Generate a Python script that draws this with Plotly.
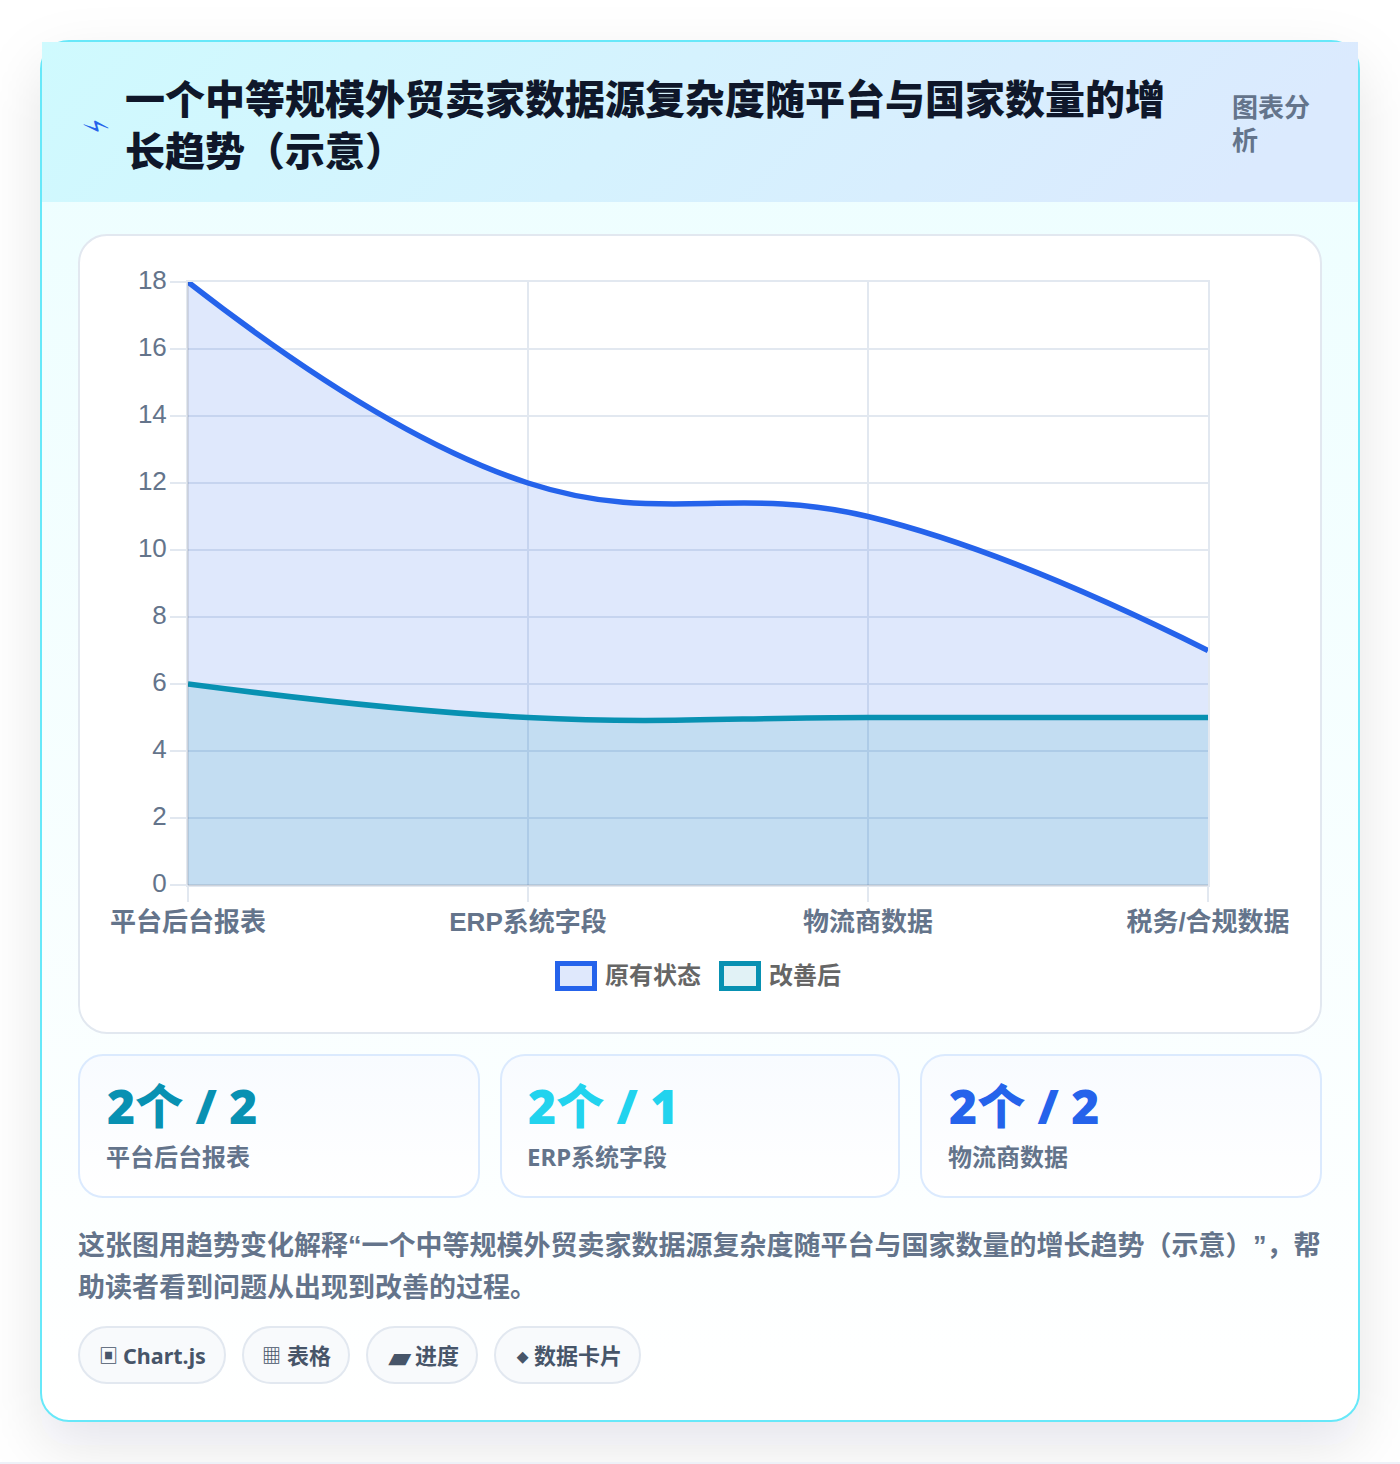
import base64
import plotly.graph_objects as go

# Chart data
categories = ["平台后台报表", "ERP系统字段", "物流商数据", "税务/合规数据"]
before_values = [18, 12, 11, 7]
after_values = [6, 5, 5, 5]
y_ticks = [0, 2, 4, 6, 8, 10, 12, 14, 16, 18]
series_names = ["原有状态", "改善后"]

W, H = 1400, 1464
CJK = "Noto Sans CJK SC"
HUMANIST = f"Noto Sans, {CJK}"
HELV = f"Liberation Sans, {CJK}"
SLATE = "#64748b"
GRID = "#e2e8f0"
BLUE = "#2563eb"
TEAL = "#0891b2"

# The curly quotes are set in the Latin face so they stay narrow
OPEN_QUOTE = '<span style="font-family:Liberation Sans">“</span>'
CLOSE_QUOTE = '<span style="font-family:Liberation Sans">”</span>'

# Copy
title_lines = ["一个中等规模外贸卖家数据源复杂度随平台与国家数量的增", "长趋势（示意）"]
badge_lines = ["图表分", "析"]
stat_values = ["2个 / 2", "2个 / 1", "2个 / 2"]
stat_labels = ["平台后台报表", "ERP系统字段", "物流商数据"]
stat_colors = ["#0891b2", "#22d3ee", "#2563eb"]
note_first = f"这张图用趋势变化解释{OPEN_QUOTE}一个中等规模外贸卖家数据源复杂度随平台与国家数量的增长趋势（示意）"
note_first_tail = f"{CLOSE_QUOTE}，帮"
note_second = "助读者看到问题从出现到改善的过程。"
pill_icons = ["▣", "▦", "▰", "⬥"]
pill_texts = ["Chart.js", "表格", "进度", "数据卡片"]


def px(x):
    return x / W


def py(y):
    return 1 - y / H


def round_rect(x0, y0, x1, y1, r):
    k = r * 0.4477
    pts = [
        f"M{px(x0 + r)},{py(y0)}",
        f"L{px(x1 - r)},{py(y0)}",
        f"C{px(x1 - k)},{py(y0)} {px(x1)},{py(y0 + k)} {px(x1)},{py(y0 + r)}",
        f"L{px(x1)},{py(y1 - r)}",
        f"C{px(x1)},{py(y1 - k)} {px(x1 - k)},{py(y1)} {px(x1 - r)},{py(y1)}",
        f"L{px(x0 + r)},{py(y1)}",
        f"C{px(x0 + k)},{py(y1)} {px(x0)},{py(y1 - k)} {px(x0)},{py(y1 - r)}",
        f"L{px(x0)},{py(y0 + r)}",
        f"C{px(x0)},{py(y0 + k)} {px(x0 + k)},{py(y0)} {px(x0 + r)},{py(y0)}",
        "Z",
    ]
    return " ".join(pts)


def panel(x0, y0, x1, y1, r, line, width, fill):
    return dict(
        type="path", xref="paper", yref="paper", layer="below",
        path=round_rect(x0, y0, x1, y1, r), fillcolor=fill,
        line=dict(color=line, width=width),
    )


def label(x, y, text, size, color, family=CJK, weight=700, anchor="left", angle=0):
    return dict(
        xref="paper", yref="paper", x=px(x), y=py(y), text=text, showarrow=False,
        xanchor=anchor, yanchor="middle", textangle=angle, borderpad=0, borderwidth=0,
        font=dict(family=family, size=size, color=color, weight=weight),
    )


# Page backdrop: soft card shadow and the gradient fills
stat_boxes = [(79, 1055, 479, 1197), (501, 1055, 899, 1197), (921, 1055, 1321, 1197)]
stat_svg = "".join(
    f'<rect x="{a}" y="{b}" width="{c - a}" height="{d - b}" rx="24" fill="url(#stat)"/>'
    for a, b, c, d in stat_boxes
)
backdrop = f"""<svg xmlns="http://www.w3.org/2000/svg" width="{W}" height="{H}" viewBox="0 0 {W} {H}">
<defs>
<linearGradient id="head" x1="0" y1="0" x2="1" y2="0.12">
<stop offset="0" stop-color="#cffafe"/><stop offset="1" stop-color="#dbeafe"/></linearGradient>
<linearGradient id="body" x1="0" y1="0" x2="0" y2="1">
<stop offset="0" stop-color="#ecfeff"/><stop offset="1" stop-color="#ffffff"/></linearGradient>
<linearGradient id="stat" x1="0" y1="0" x2="0" y2="1">
<stop offset="0" stop-color="#f8fbff"/><stop offset="1" stop-color="#ffffff"/></linearGradient>
<filter id="soft" x="-20%" y="-20%" width="140%" height="140%"><feGaussianBlur stdDeviation="30"/></filter>
</defs>
<rect width="{W}" height="{H}" fill="#ffffff"/>
<rect x="41" y="65" width="1318" height="1380" rx="28" fill="#0f172a" fill-opacity="0.11" filter="url(#soft)"/>
<rect x="0" y="1462" width="{W}" height="2" fill="#eef1f8"/>
<rect x="41" y="41" width="1318" height="1380" rx="28" fill="url(#body)" stroke="#67e8f9" stroke-width="2"/>
<rect x="42" y="42" width="1316" height="160" fill="url(#head)"/>
{stat_svg}
</svg>"""
backdrop_uri = "data:image/svg+xml;base64," + base64.b64encode(backdrop.encode()).decode()

shapes = [panel(79, 235, 1321, 1033, 28, GRID, 2, "#ffffff")]
shapes += [panel(a, b, c, d, 24, "#dbeafe", 2, "rgba(0,0,0,0)") for a, b, c, d in stat_boxes]

pill_boxes = [(79, 1327, 225, 1383), (243, 1327, 349, 1383), (367, 1327, 477, 1383), (495, 1327, 640, 1383)]
shapes += [panel(a, b, c, d, 28, GRID, 2, "#f8fafc") for a, b, c, d in pill_boxes]

# Legend swatches
legend_slots = [(557.5, 963.5, 594.5, 988.5, BLUE, "rgba(37,99,235,0.15)"),
                (721.5, 963.5, 758.5, 988.5, TEAL, "rgba(8,145,178,0.12)")]
for a, b, c, d, edge, fill in legend_slots:
    shapes.append(dict(type="rect", xref="paper", yref="paper", layer="below",
                       x0=px(a), x1=px(c), y0=py(d), y1=py(b), fillcolor=fill,
                       line=dict(color=edge, width=5)))

# Slightly darker left and bottom axis borders
for a, b, c, d in [(188, 282, 188, 885), (188, 885, 1208, 885)]:
    shapes.append(dict(type="line", xref="paper", yref="paper", layer="above",
                       x0=px(a), x1=px(c), y0=py(b), y1=py(d),
                       line=dict(color="rgba(15,23,42,0.10)", width=2)))

annotations = [
    label(95, 127, "⚡", 28, BLUE, family="DejaVu Sans", weight=400, anchor="center", angle=62),
    label(125, 97, title_lines[0], 40, "#0f172a", weight=900),
    label(125, 149, title_lines[1], 40, "#0f172a", weight=900),
    label(1232, 105, badge_lines[0], 26, SLATE),
    label(1232, 139, badge_lines[1], 26, SLATE),
    label(605, 973, series_names[0], 24, "#666666"),
    label(769, 973, series_names[1], 24, "#666666"),
    label(78, 1243, note_first, 27, SLATE),
    label(1252.5, 1243, note_first_tail, 27, SLATE),
    label(78, 1285, note_second, 27, SLATE),
]
for x, value, name, color in zip((107, 528, 949), stat_values, stat_labels, stat_colors):
    annotations.append(label(x, 1105, value, 48, color, family=HUMANIST, weight=900))
    annotations.append(label(x - 1, 1156, name, 24, SLATE, family=HUMANIST))
for x, size, icon in zip((99, 262, 388, 516), (19, 19, 28, 16), pill_icons):
    annotations.append(label(x, 1356, icon, size, "#475569", family=HUMANIST))
for x, size, text in zip((123, 287, 415, 534), (21.5, 22, 22, 22), pill_texts):
    annotations.append(label(x, 1355, text, size, "#475569", family=HUMANIST))

fig = go.Figure()
fig.add_trace(go.Scatter(
    x=categories, y=before_values, name=series_names[0], mode="lines", fill="tozeroy",
    fillcolor="rgba(37,99,235,0.15)", cliponaxis=False,
    line=dict(color=BLUE, width=5.5, shape="spline", smoothing=1.2),
))
fig.add_trace(go.Scatter(
    x=categories, y=after_values, name=series_names[1], mode="lines", fill="tozeroy",
    fillcolor="rgba(8,145,178,0.13)", cliponaxis=False,
    line=dict(color=TEAL, width=5.5, shape="spline", smoothing=1.2),
))

fig.update_layout(
    width=W, height=H, margin=dict(l=0, r=0, t=0, b=0, pad=0, autoexpand=False),
    paper_bgcolor="#ffffff", plot_bgcolor="rgba(0,0,0,0)", showlegend=False,
    images=[dict(source=backdrop_uri, xref="paper", yref="paper", x=0, y=1, sizex=1, sizey=1,
                 xanchor="left", yanchor="top", sizing="stretch", layer="below")],
    shapes=shapes, annotations=annotations,
    xaxis=dict(
        domain=[px(188), px(1208)], type="category", range=[0, 3], categoryorder="array",
        categoryarray=categories, showgrid=True, gridcolor=GRID, gridwidth=2, zeroline=False,
        showline=True, mirror=True, linecolor=GRID, linewidth=2, layer="below traces",
        ticks="outside", ticklen=15, tickwidth=2, tickcolor=GRID, ticklabelstandoff=-2,
        tickfont=dict(family=HELV, size=26, color=SLATE, weight=700),
    ),
    yaxis=dict(
        domain=[py(885), py(282)], range=[0, 18], tickmode="array", tickvals=y_ticks,
        showgrid=True, gridcolor=GRID, gridwidth=2, zeroline=False,
        showline=True, mirror=True, linecolor=GRID, linewidth=2, layer="below traces",
        ticks="outside", ticklen=16, tickwidth=2, tickcolor=GRID,
        ticklabelstandoff=-2, ticklabelshift=-2,
        tickfont=dict(family="Liberation Sans", size=26, color=SLATE),
    ),
)

fig.write_html("out.html", config=dict(displayModeBar=False))
